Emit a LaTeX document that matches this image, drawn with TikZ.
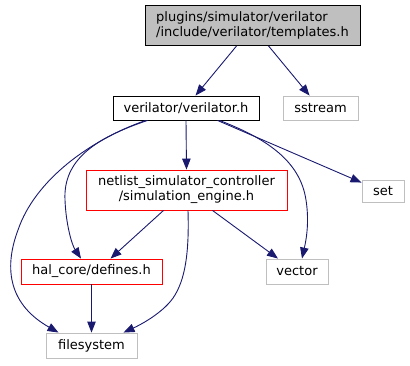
\documentclass[tikz,border=0pt]{standalone}
\usepackage{fontspec}
\setmainfont{DejaVu Sans}
\usetikzlibrary{arrows.meta}
\definecolor{edgeblue}{HTML}{191970}
\definecolor{graybd}{HTML}{BFBFBF}
\definecolor{topfill}{HTML}{BFBFBF}
\tikzset{
  box/.style={draw, rectangle, inner sep=0pt, align=center, font=\fontsize{13}{15}\selectfont, line width=0.9pt},
  gbox/.style={box, draw=graybd},
  rbox/.style={box, draw=red},
  kbox/.style={box, draw=black},
  edge/.style={draw=edgeblue, line width=0.9pt, -{Triangle[length=11pt,width=8.5pt]}},
}
\begin{document}
\begin{tikzpicture}[x=1pt,y=-1pt]
\useasboundingbox (0,0) rectangle (410,365);
\node[kbox, fill=topfill, minimum width=215, minimum height=40, align=left] (t) at (252.5,25.5) {plugins/simulator/verilator\\/include/verilator/templates.h};
\node[kbox, minimum width=146, minimum height=24] (v) at (186,108) {verilator/verilator.h};
\node[gbox, minimum width=75, minimum height=24] (ss) at (320.5,108) {sstream};
\node[rbox, minimum width=201, minimum height=40] (n) at (186.5,190) {netlist\_simulator\_controller\\/simulation\_engine.h};
\node[gbox, minimum width=42, minimum height=22] (st) at (383,191) {set};
\node[rbox, minimum width=141, minimum height=25] (d) at (91.5,271.5) {hal\_core/defines.h};
\node[gbox, minimum width=62, minimum height=25] (vec) at (297,271.5) {vector};
\node[gbox, minimum width=91, minimum height=25] (fs) at (91.5,345.5) {filesystem};

\draw[edge] ([xshift=92]t.south west) -- ([xshift=83]v.north west);
\draw[edge] ([xshift=124]t.south west) -- ([xshift=27]ss.north west);
\draw[edge] (v.south) -- (n.north);
\draw[edge] ([xshift=105]v.south west) -- ([yshift=-3]st.north west);
\draw[edge] ([xshift=107]v.south west) .. controls (265,138) and (300,160) .. (306,200) .. controls (310,225) and (305,245) .. ([xshift=5]vec.north);
\draw[edge] ([xshift=35]v.south west) .. controls (95,138) and (63,160) .. (65,200) .. controls (66,225) and (72,245) .. ([xshift=-10.5]d.north);
\draw[edge] ([xshift=33]v.south west) .. controls (90,140) and (35,180) .. (18,230) .. controls (3,270) and (10,305) .. ([xshift=-33]fs.north);
\draw[edge] ([xshift=-23]n.south) -- ([xshift=19]d.north);
\draw[edge] ([xshift=26]n.south) -- ([xshift=-19]vec.north);
\draw[edge] ([xshift=1.5]n.south) .. controls (189,245) and (187,275) .. (175,295) .. controls (165,312) and (140,325) .. ([xshift=32]fs.north);
\draw[edge] (d.south) -- (fs.north);
\end{tikzpicture}
\end{document}
